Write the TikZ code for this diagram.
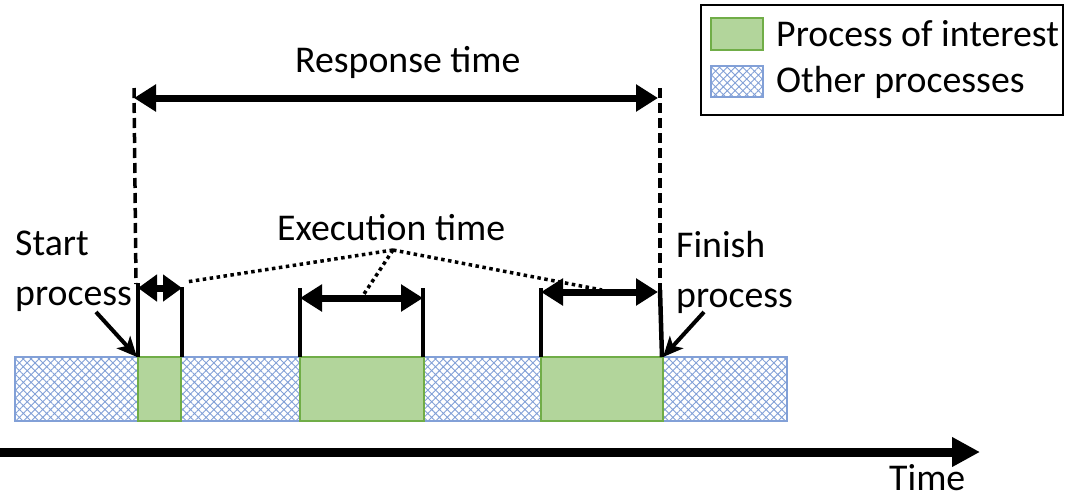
\documentclass[tikz,border=0pt]{standalone}
\usepackage{fontspec}
\setmainfont{Carlito}
\usetikzlibrary{arrows.meta,patterns.meta}
\definecolor{pgreen}{RGB}{112,173,71}
\definecolor{pgreenfill}{RGB}{178,213,155}
\definecolor{pblue}{RGB}{130,160,215}
\tikzset{
  lbl/.style={font=\fontsize{37.8}{44}\selectfont, inner sep=0pt, anchor=base west},
  interest/.style={draw=pgreen, line width=2.5pt, fill=pgreenfill},
  other/.style={draw=pblue, line width=1.2pt, fill=white, postaction={pattern={Hatch[angle=45,distance=5.5pt,line width=0.9pt]}, pattern color=pblue}},
  bigdim/.style={line width=7pt, {Triangle[length=22pt,width=26pt]}-{Triangle[length=22pt,width=26pt]}},
  bracket/.style={line width=4.5pt},
  dashv/.style={line width=3.5pt, dash pattern=on 10pt off 5pt},
  dots/.style={line width=3.5pt, dash pattern=on 3.5pt off 3.5pt},
  pointer/.style={line width=4pt, -{Stealth[length=20pt,width=18pt,inset=5pt]}},
}
\begin{document}
\begin{tikzpicture}[x=1pt,y=-1pt]
\useasboundingbox (0,0) rectangle (1065,499);
% bar
\draw[other] (15,357) rectangle (787,421);
\draw[interest] (138,357) rectangle (181,421);
\draw[interest] (300,357) rectangle (424,421);
\draw[interest] (541,357) rectangle (663,421);
% coordinates
\coordinate (rsL) at (134,98); \coordinate (rsR) at (658,98);
\coordinate (dL1) at (134,88); \coordinate (dL2) at (136,284);
\coordinate (dR1) at (660,88); \coordinate (dR2) at (660,290);
% dashed verticals
\draw[dashv] (dL1) -- (dL2);
\draw[dashv] (dR1) -- (dR2);
% response arrow
\draw[bigdim] (rsL) -- (rsR);
\node[lbl] (resp) at (295,72) {Response time};
% brackets
\coordinate (b1a) at (138,283); \coordinate (b1b) at (138,357);
\coordinate (b2a) at (182,287); \coordinate (b2b) at (182,357);
\coordinate (b3a) at (300,288); \coordinate (b3b) at (300,357);
\coordinate (b4a) at (423,288); \coordinate (b4b) at (423,357);
\coordinate (b5a) at (541,288); \coordinate (b5b) at (541,357);
\coordinate (b6a) at (660,290); \coordinate (b6b) at (662,357);
\foreach \a/\b in {b1a/b1b,b2a/b2b,b3a/b3b,b4a/b4b,b5a/b5b,b6a/b6b}
  \draw[bracket] (\a) -- (\b);
% execution arrows
\coordinate (e1L) at (138,288); \coordinate (e1R) at (182,288);
\coordinate (e2L) at (300,298); \coordinate (e2R) at (423,298);
\coordinate (e3L) at (541,292); \coordinate (e3R) at (658,292);
\draw[line width=7pt, {Triangle[length=19pt,width=26pt]}-{Triangle[length=19pt,width=26pt]}] (e1L) -- (e1R);
\draw[bigdim] (e2L) -- (e2R);
\draw[bigdim] (e3L) -- (e3R);
% execution label and dotted leaders
\node[lbl] (exec) at (277,240) {Execution time};
\coordinate (hub) at (393,250);
\coordinate (t1) at (186,282); \coordinate (t2) at (364,294); \coordinate (t3) at (602,290);
\draw[dots] (hub) -- (t1);
\draw[dots] (hub) -- (t2);
\draw[dots] (hub) -- (t3);
% start / finish
\node[lbl] (start1) at (15,255) {Start};
\node[lbl] (start2) at (15,305) {process};
\node[lbl] (fin1) at (676,257) {Finish};
\node[lbl] (fin2) at (676,307) {process};
\coordinate (sp1) at (96,312); \coordinate (sp2) at (137,357);
\coordinate (fp1) at (704,312); \coordinate (fp2) at (663,357);
\draw[pointer] (sp1) -- (sp2);
\draw[pointer] (fp1) -- (fp2);
% time axis
\coordinate (ax0) at (0,452); \coordinate (ax1) at (980,452);
\draw[line width=9pt, -{Triangle[length=28pt,width=28pt]}] (ax0) -- (ax1);
\node[lbl] (time) at (889,490) {Time};
% legend
\draw[line width=2.5pt] (701,5) rectangle (1063,115);
\draw[interest] (711,18) rectangle (763,50);
\draw[other] (711,66) rectangle (763,97);
\node[lbl] (leg1) at (776,46) {Process of interest};
\node[lbl] (leg2) at (776,92) {Other processes};
\end{tikzpicture}
\end{document}
